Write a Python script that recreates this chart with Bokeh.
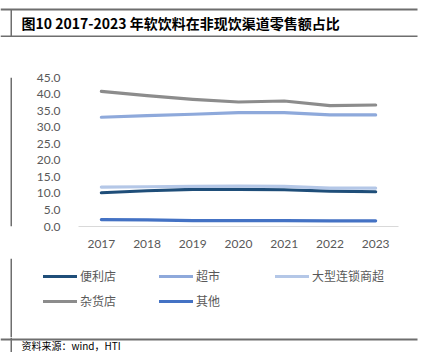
from bokeh.plotting import figure
from bokeh.layouts import column, row
from bokeh.models import (ColumnDataSource, FactorRange, FixedTicker, NumeralTickFormatter,
                          Legend, LegendItem, Range1d)
from bokeh.core.properties import value
from bokeh.embed import file_html
from bokeh.resources import INLINE

years = ["2017", "2018", "2019", "2020", "2021", "2022", "2023"]
convenience = [10.2, 10.8, 11.2, 11.2, 11.1, 10.7, 10.5]
supermarket = [33.0, 33.5, 33.9, 34.4, 34.4, 33.7, 33.7]
hypermarket = [11.9, 12.0, 12.1, 12.2, 12.1, 11.6, 11.6]
grocery = [40.8, 39.5, 38.4, 37.6, 37.9, 36.5, 36.7]
other = [2.1, 2.0, 1.8, 1.8, 1.8, 1.7, 1.7]

series_names = ["便利店", "超市", "大型连锁商超", "杂货店", "其他"]
series_values = [convenience, supermarket, hypermarket, grocery, other]
series_colors = ["#1F4E79", "#8EA9DB", "#B4C7E7", "#8C8C8C", "#4472C4"]
y_ticks = [0, 5, 10, 15, 20, 25, 30, 35, 40, 45]

title_text = "图10 2017-2023 年软饮料在非现饮渠道零售额占比"
source_text = "资料来源：wind，HTI"

W = 422
RULE = "#6E6E6E"
LW = 3.2
NAN = float("nan")


def blank(w, h):
    f = figure(width=w, height=h, x_range=Range1d(0, w), y_range=Range1d(h, 0),
               output_backend="svg", toolbar_location=None, x_axis_type=None,
               y_axis_type=None, min_border=0, min_border_left=0, min_border_right=0,
               min_border_top=0, min_border_bottom=0)
    f.outline_line_color = None
    f.grid.visible = False
    f.background_fill_color = "white"
    f.border_fill_color = "white"
    return f


# ---- header (canvas y 0..37)
hdr = blank(W, 37)
hdr.segment(x0=[0, 0, 10.75], y0=[9, 36, 9], x1=[417, 417, 10.75], y1=[9, 36, 37],
            line_color=RULE, line_width=[2, 2, 1.5])
hdr.text(x=[21], y=[22.5], text=[title_text], text_font=value("Noto Sans CJK SC"),
         text_font_style="bold", text_font_size="14px", text_color="#000000",
         text_baseline="middle", text_align="left")

# ---- chart row (canvas y 37..258)
CH = 221
strip = blank(12, CH)
strip.segment(x0=[10.75], y0=[0], x1=[10.75], y1=[CH], line_color=RULE, line_width=1.5)

p = figure(width=W - 12, height=CH, x_range=FactorRange(*years, range_padding=0),
           y_range=Range1d(0, 45), output_backend="svg", toolbar_location=None,
           min_border_left=66, min_border_right=24, min_border_top=40,
           min_border_bottom=32)
p.outline_line_color = None
p.background_fill_color = "white"
p.border_fill_color = "white"
p.xgrid.visible = False
p.ygrid.visible = False

src = ColumnDataSource(dict(x=years, **{f"s{i}": v for i, v in enumerate(series_values)}))
for i, color in enumerate(series_colors):
    p.line("x", f"s{i}", source=src, line_color=color, line_width=LW,
           line_cap="round", line_join="round")

yax = p.yaxis[0]
yax.ticker = FixedTicker(ticks=y_ticks)
yax.formatter = NumeralTickFormatter(format="0.0")
yax.axis_line_color = None
yax.major_tick_line_color = None
yax.minor_tick_line_color = None
yax.major_label_standoff = 12
yax.major_label_text_font = "Lato"
yax.major_label_text_font_size = "12px"
yax.major_label_text_color = "#595959"

xax = p.xaxis[0]
xax.axis_line_color = "#D9D9D9"
xax.axis_line_width = 1
xax.major_tick_line_color = None
xax.minor_tick_line_color = None
xax.major_label_standoff = 7
xax.major_label_text_font = "Lato"
xax.major_label_text_font_size = "12px"
xax.major_label_text_color = "#595959"

# ---- legend area (canvas y 258..337)
LH = 79
lg = blank(W, LH)
lg.segment(x0=[10.75], y0=[0], x1=[10.75], y1=[LH], line_color=RULE, line_width=1.5)
items = []
for name, color in zip(series_names, series_colors):
    # legend-only key line (no visible data)
    r = lg.line([NAN], [NAN], line_color=color, line_width=LW, line_cap="round")
    items.append(LegendItem(label=name, renderers=[r]))
# legend top at canvas y 269 -> 11 px into this strip; two rows of 16 px + 8 px gap
legend = Legend(items=items, location=(43, LH - 11 - 40), orientation="horizontal",
                ncols=3, glyph_width=34, glyph_height=16, label_height=16,
                label_width=71, label_standoff=3, spacing=8, padding=0, margin=0,
                border_line_color=None, background_fill_alpha=0,
                label_text_font="Noto Sans CJK SC", label_text_font_size="12px",
                label_text_color="#595959")
lg.add_layout(legend, "center")

# ---- footer (canvas y 337..352)
FH = 15
ftr = blank(W, FH)
ftr.segment(x0=[0, 10.75], y0=[2, 0], x1=[417, 10.75], y1=[2, FH],
            line_color=RULE, line_width=[2, 1.5])
ftr.text(x=[21], y=[8], text=[source_text], text_font=value("Noto Sans CJK SC"),
         text_font_size="10px", text_color="#000000",
         text_baseline="middle", text_align="left")

layout = column(hdr, row(strip, p, spacing=0), lg, ftr, spacing=0)
open("out.html", "w").write(file_html(layout, INLINE))
